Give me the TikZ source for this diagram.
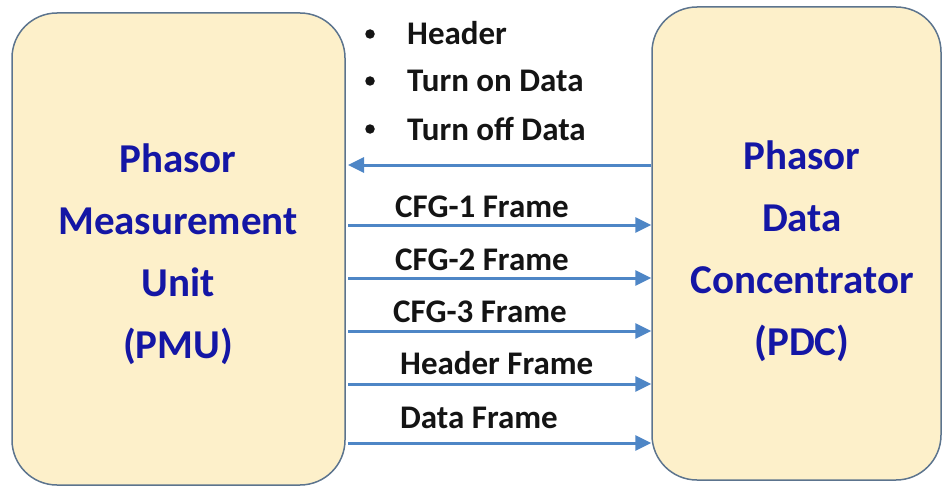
\documentclass[tikz,border=0pt]{standalone}
\usepackage{fontspec}
\setmainfont{Carlito}
\usetikzlibrary{arrows.meta}
\definecolor{boxfill}{RGB}{253,240,202}
\definecolor{boxline}{RGB}{92,116,142}
\definecolor{titleblue}{RGB}{20,22,165}
\definecolor{arrowblue}{RGB}{78,134,198}
\definecolor{txt}{RGB}{20,20,20}
\tikzset{
  unitbox/.style={draw=boxline, fill=boxfill, line width=1.5pt, rounded corners=45pt, inner sep=0pt},
  bigtext/.style={text=titleblue, font=\bfseries\fontsize{41}{62}\selectfont, align=center, inner sep=0pt},
  lbl/.style={text=txt, font=\bfseries\fontsize{33}{36}\selectfont, inner sep=0pt, anchor=base west},
  dot/.style={fill=txt, circle, inner sep=0pt, minimum size=9.5pt},
  msg/.style={draw=arrowblue, line width=3pt, -{Triangle[length=16pt, width=15pt]}},
}
\begin{document}
\begin{tikzpicture}[x=1pt, y=-1pt]
\useasboundingbox (0,0) rectangle (943,487);
% boxes
\node[unitbox, minimum width=333pt, minimum height=472pt] (pmu) at (178.5,249) {};
\node[unitbox, minimum width=289pt, minimum height=473pt] (pdc) at (796.5,243.5) {};
% box texts
\node[bigtext] (pmut) at (178,254) {Phasor\\Measurement\\Unit\\(PMU)};
\node[bigtext] (pdct) at (802,251) {Phasor\\Data\\Concentrator\\(PDC)};
% command list
\node[lbl] (b1) at (407,45) {Header};
\node[lbl] (b2) at (407,92) {Turn on Data};
\node[lbl] (b3) at (407,140) {Turn off Data};
\node[dot] (d1) at (370,34) {};
\node[dot] (d2) at (370,81) {};
\node[dot] (d3) at (370,129) {};
% arrow from PDC to PMU
\coordinate (c0) at (348,165);
\draw[msg] (pdc.west |- c0) -- (c0);
% frames from PMU to PDC
\foreach \i/\y in {1/225, 2/278, 3/331, 4/384, 5/443} {
  \coordinate (s\i) at (348,\y);
  \draw[msg] (s\i) -- (pdc.west |- s\i);
}
\node[lbl] (l1) at (395,217) {CFG-1 Frame};
\node[lbl] (l2) at (395,270) {CFG-2 Frame};
\node[lbl] (l3) at (393,322) {CFG-3 Frame};
\node[lbl] (l4) at (400,374) {Header Frame};
\node[lbl] (l5) at (400,428) {Data Frame};
\end{tikzpicture}
\end{document}
